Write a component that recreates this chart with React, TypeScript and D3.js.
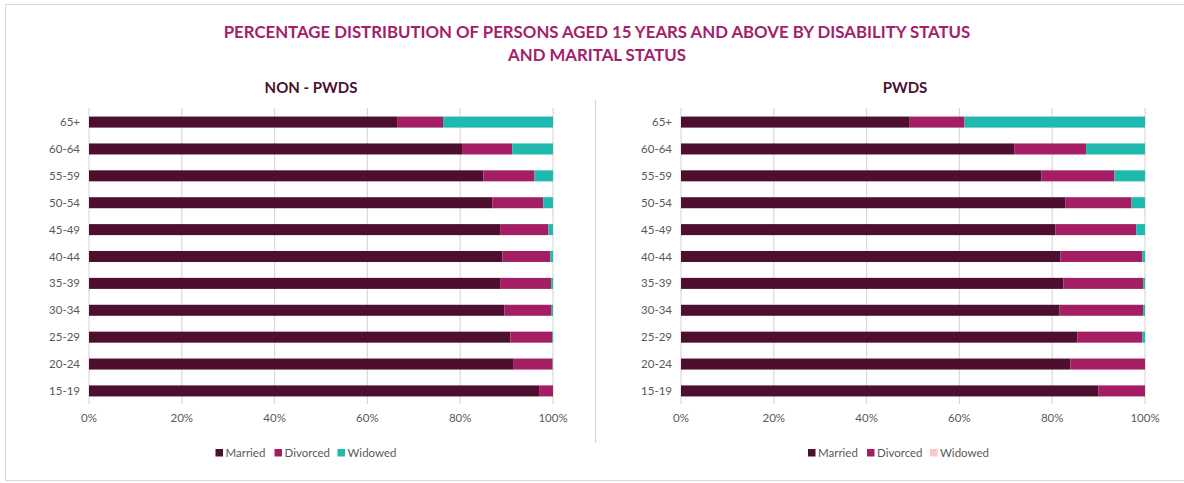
import React from "react";
import * as d3 from "d3";

const W = 1184;
const H = 483;

const ageGroups = ["65+", "60-64", "55-59", "50-54", "45-49", "40-44", "35-39", "30-34", "25-29", "20-24", "15-19"];
const seriesNames = ["Married", "Divorced", "Widowed"];

// NON - PWDS
const nonMarried = [66.4, 80.4, 85.0, 86.9, 88.6, 89.1, 88.6, 89.5, 90.8, 91.4, 97.0];
const nonDivorced = [9.9, 10.8, 11.0, 11.0, 10.4, 10.3, 11.0, 10.2, 9.0, 8.5, 3.0];
const nonWidowed = [23.7, 8.8, 4.0, 2.1, 1.0, 0.6, 0.4, 0.3, 0.2, 0.1, 0.0];

// PWDS
const pwdMarried = [49.3, 71.8, 77.7, 82.8, 80.7, 81.8, 82.4, 81.6, 85.4, 83.9, 90.0];
const pwdDivorced = [11.8, 15.5, 15.7, 14.3, 17.4, 17.6, 17.2, 18.0, 14.0, 16.1, 10.0];
const pwdWidowed = [38.9, 12.7, 6.6, 2.9, 1.9, 0.6, 0.4, 0.4, 0.6, 0.0, 0.0];

const xTicks = [0, 20, 40, 60, 80, 100];

const barColors = ["#4e0f2f", "#a31e62", "#20b9ae"];
const legendColorsLeft = ["#4e0f2f", "#a31e62", "#20b9ae"];
const legendColorsRight = ["#4e0f2f", "#a31e62", "#f8c9c9"];

const FONT = "Lato, 'Open Sans', sans-serif";

type PanelProps = {
  title: string;
  x0: number;
  x1: number;
  married: number[];
  divorced: number[];
  widowed: number[];
  legendX: number;
  legendColors: string[];
  titleX: number;
};

function Panel({ title, x0, x1, married, divorced, widowed, legendX, legendColors, titleX }: PanelProps) {
  const x = d3.scaleLinear().domain([0, 100]).range([x0, x1]);
  const y = d3.scaleBand<string>().domain(ageGroups).range([108.5, 404.5]).paddingInner(0.59).paddingOuter(0.3);
  const rows = ageGroups.map((g, i) => ({ g, Married: married[i], Divorced: divorced[i], Widowed: widowed[i] }));
  const stack = d3.stack<any>().keys(seriesNames);
  const layers = stack(rows);
  const legendOffsets = [0, 59, 122];
  return (
    <g>
      <text x={titleX} y={93} textAnchor="middle" fontFamily={FONT} fontWeight={700} fontSize={15} fill="#4a1030">
        {title}
      </text>
      {xTicks.map((t) => (
        <line key={"g" + t} x1={x(t)} x2={x(t)} y1={108} y2={404} stroke="#d9d9d9" strokeWidth={1.2} />
      ))}
      {layers.map((layer, li) => (
        <g key={layer.key} fill={barColors[li]}>
          {layer.map((d, i) => (
            <rect
              key={i}
              x={x(d[0])}
              y={y(ageGroups[i])}
              width={Math.max(0, x(d[1]) - x(d[0]))}
              height={y.bandwidth()}
            />
          ))}
        </g>
      ))}
      {ageGroups.map((g) => (
        <text
          key={"l" + g}
          x={x0 - 9}
          y={(y(g) as number) + y.bandwidth() / 2}
          dy="0.35em"
          textAnchor="end"
          fontFamily={FONT}
          fontSize={11.5}
          fill="#595959"
        >
          {g}
        </text>
      ))}
      {xTicks.map((t) => (
        <text key={"t" + t} x={x(t)} y={422} textAnchor="middle" fontFamily={FONT} fontSize={11.5} fill="#595959">
          {t + "%"}
        </text>
      ))}
      {seriesNames.map((s, i) => (
        <g key={"lg" + s} transform={`translate(${legendX + legendOffsets[i]},0)`}>
          <rect x={0} y={449} width={7.5} height={7.5} fill={legendColors[i]} />
          <text x={10} y={457} fontFamily={FONT} fontSize={11.5} fill="#595959">
            {s}
          </text>
        </g>
      ))}
    </g>
  );
}

export default function App() {
  return (
    <svg width={W} height={H} style={{ position: "absolute", left: 0, top: 0, background: "#fff" }}>
      <rect x={5.5} y={4.5} width={1190} height={476} fill="#fff" stroke="#d9d9d9" strokeWidth={1} />
      <text x={597} y={38} textAnchor="middle" fontFamily={FONT} fontWeight={700} fontSize={16.8} fill="#a3206a">
        PERCENTAGE DISTRIBUTION OF PERSONS AGED 15 YEARS AND ABOVE BY DISABILITY STATUS
      </text>
      <text x={597} y={61} textAnchor="middle" fontFamily={FONT} fontWeight={700} fontSize={16.8} fill="#a3206a">
        AND MARITAL STATUS
      </text>
      <line x1={595.5} x2={595.5} y1={100} y2={443} stroke="#d9d9d9" strokeWidth={1.2} />
      <Panel
        title="NON - PWDS"
        x0={89}
        x1={553}
        married={nonMarried}
        divorced={nonDivorced}
        widowed={nonWidowed}
        legendX={215.5}
        legendColors={legendColorsLeft}
        titleX={311}
      />
      <Panel
        title="PWDS"
        x0={681}
        x1={1145}
        married={pwdMarried}
        divorced={pwdDivorced}
        widowed={pwdWidowed}
        legendX={808}
        legendColors={legendColorsRight}
        titleX={905}
      />
    </svg>
  );
}
